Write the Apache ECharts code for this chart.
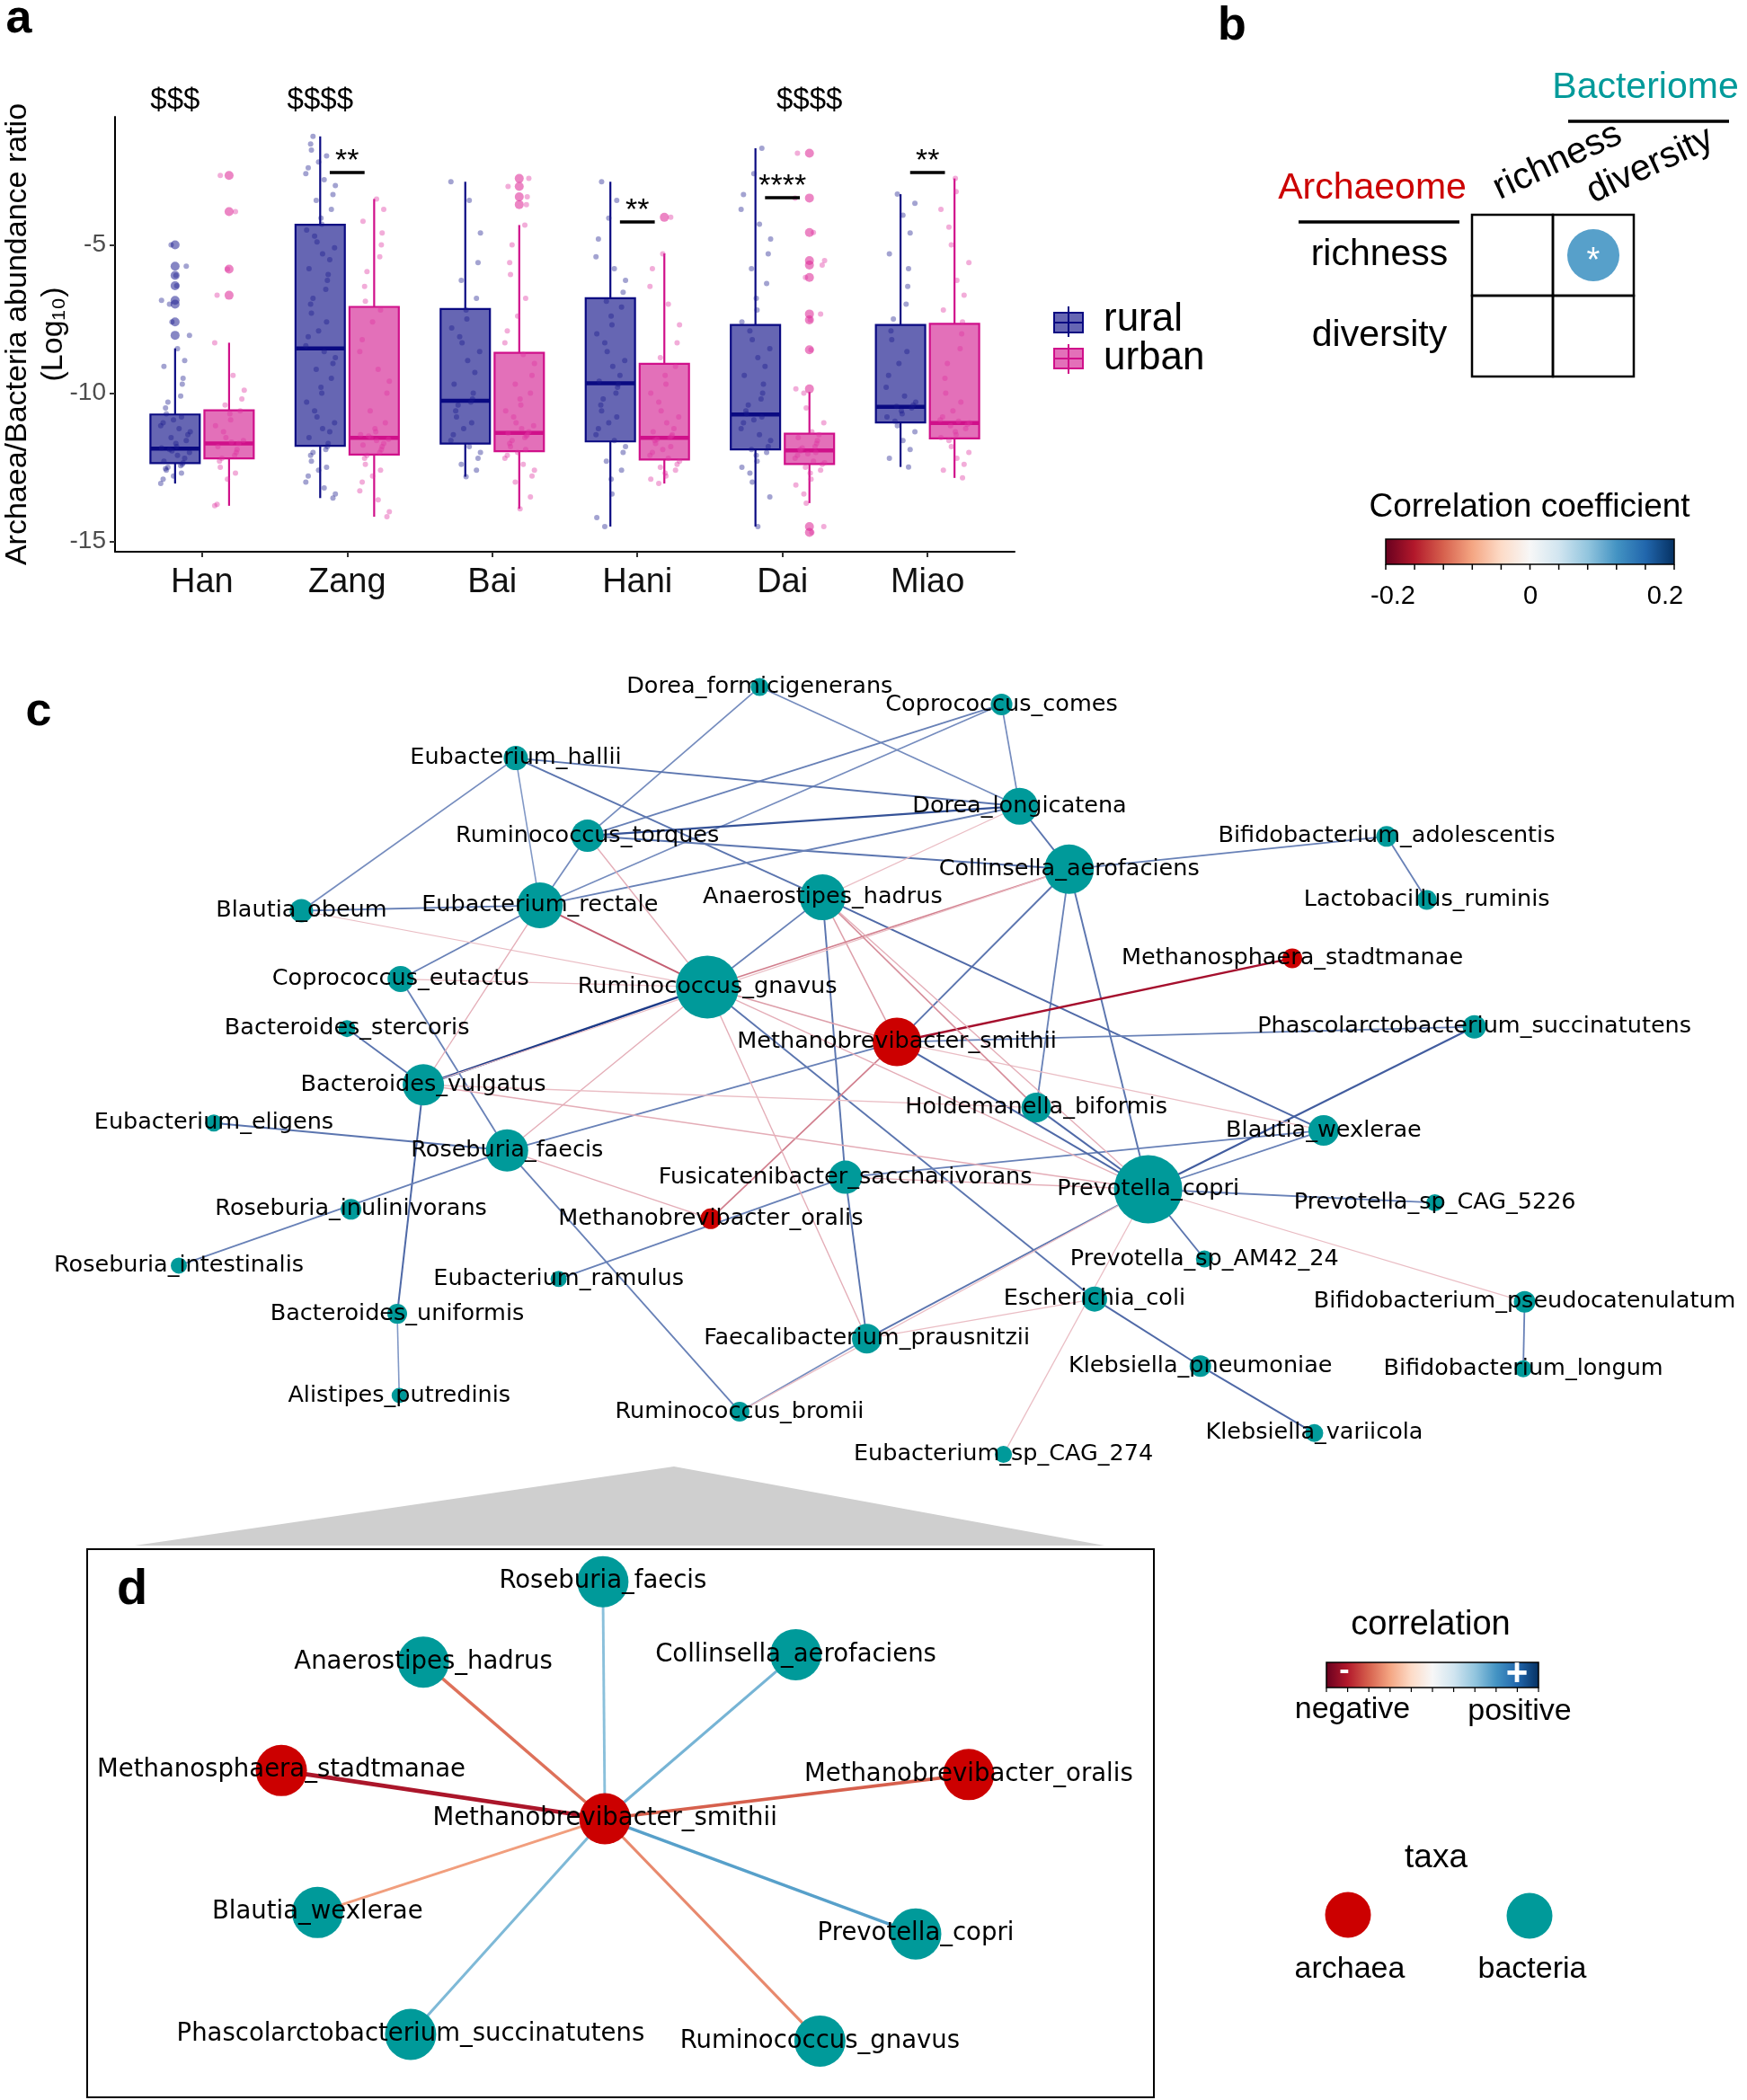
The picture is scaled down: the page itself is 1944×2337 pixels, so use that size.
<!DOCTYPE html>
<html>
<head>
<meta charset="UTF-8">
<title>Archaeome / bacteriome</title>
<script src="https://cdn.jsdelivr.net/npm/echarts@6/dist/echarts.min.js"></script>
</head>
<body style="margin:0;background:#fff">
<div id="chart" style="width:1944px;height:2337px;"></div>
<script type="text/javascript">
var myChart = echarts.init(document.getElementById('chart'));

var FONT = '"Liberation Sans", Arial, sans-serif';
var NETFONT = '"DejaVu Sans", sans-serif';

// ---------- panel a: archaea/bacteria ratio per group ----------
var groups = ['Han', 'Zang', 'Bai', 'Hani', 'Dai', 'Miao'];
// [lower whisker, Q1, median, Q3, upper whisker]
var ruralBox = [
    [-13.05, -12.36, -11.87, -10.72, -8.49],
    [-13.54, -11.78, -8.49, -4.32, -1.34],
    [-12.82, -11.70, -10.26, -7.16, -2.87],
    [-14.50, -11.63, -9.67, -6.80, -2.87],
    [-14.50, -11.90, -10.72, -7.70, -1.74],
    [-12.49, -10.99, -10.46, -7.70, -3.29]
];
var urbanBox = [
    [-13.80, -12.20, -11.70, -10.58, -8.30],
    [-14.17, -12.07, -11.51, -7.09, -3.45],
    [-13.90, -11.96, -11.34, -8.64, -4.33],
    [-13.05, -12.24, -11.51, -9.01, -5.29],
    [-13.71, -12.39, -11.93, -11.37, -9.96],
    [-12.86, -11.53, -11.01, -7.66, -2.76]
];
var ruralOutliers = [
    [-5.0, -5.72, -6.03, -6.38, -6.87, -7.0, -7.6, -8.05], [], [], [], [], []
];
var urbanOutliers = [
    [-2.66, -3.88, -5.82, -6.7], [], [-2.76, -3.03, -3.38, -3.64], [-4.07],
    [-1.91, -3.42, -4.58, -5.53, -5.68, -6.1, -7.33, -7.53, -8.54, -9.86, -14.5, -14.7], []
];
var ruralPoints = [
    [-13.05, -12.9, -12.8, -12.7, -12.6, -12.55, -12.5, -12.45, -12.4, -12.35, -12.3, -12.2, -12.1, -12.0, -11.95, -11.9, -11.85, -11.8, -11.7, -11.6, -11.5, -11.4, -11.3, -11.2, -11.1, -11.0, -10.9, -10.8, -10.7, -10.5, -10.3, -10.1, -9.7, -9.5, -9.1, -8.9, -8.5, -8.05, -7.6, -7.0, -6.87, -6.38, -6.03, -5.72, -5.0],
    [-13.54, -13.4, -13.2, -13.0, -12.8, -12.6, -12.5, -12.3, -12.1, -12.0, -11.9, -11.8, -11.7, -11.5, -11.3, -11.2, -11.0, -10.8, -10.6, -10.3, -10.0, -9.8, -9.5, -9.2, -9.0, -8.8, -8.6, -8.4, -8.1, -7.9, -7.6, -7.3, -7.0, -6.8, -6.5, -6.2, -6.0, -5.8, -5.5, -5.3, -5.1, -4.9, -4.7, -4.5, -4.3, -4.1, -3.8, -3.5, -3.3, -3.0, -2.8, -2.6, -2.4, -2.2, -2.0, -1.8, -1.6, -1.34],
    [-12.82, -12.6, -12.4, -12.2, -12.0, -11.8, -11.6, -11.4, -11.2, -11.0, -10.8, -10.6, -10.4, -10.3, -10.2, -10.0, -9.7, -9.3, -8.9, -8.6, -8.3, -8.1, -7.8, -7.5, -7.2, -6.8, -6.2, -5.6, -4.6, -3.5, -2.87],
    [-14.5, -14.2, -13.4, -12.9, -12.6, -12.3, -12.0, -11.8, -11.6, -11.4, -11.2, -11.0, -10.8, -10.6, -10.4, -10.2, -10.0, -9.8, -9.7, -9.6, -9.4, -9.1, -8.9, -8.6, -8.3, -8.0, -7.7, -7.4, -7.1, -6.9, -6.6, -6.2, -5.8, -5.4, -4.8, -4.1, -3.5, -2.87],
    [-14.5, -13.5, -13.0, -12.7, -12.5, -12.3, -12.1, -12.0, -11.9, -11.8, -11.6, -11.4, -11.2, -11.0, -10.9, -10.8, -10.7, -10.6, -10.4, -10.2, -10.0, -9.7, -9.4, -9.1, -8.8, -8.5, -8.2, -7.9, -7.6, -7.2, -6.8, -6.3, -5.8, -5.3, -4.8, -4.3, -3.8, -3.3, -2.6, -1.74],
    [-12.49, -12.2, -11.9, -11.6, -11.3, -11.1, -10.95, -10.8, -10.7, -10.6, -10.5, -10.45, -10.4, -10.3, -10.1, -9.8, -9.4, -9.0, -8.6, -8.2, -7.9, -7.5, -7.0, -6.4, -5.8, -5.3, -4.6, -4.0, -3.6, -3.29]
];
var urbanPoints = [
    [-13.8, -13.75, -12.9, -12.7, -12.5, -12.3, -12.2, -12.1, -12.0, -11.9, -11.8, -11.7, -11.65, -11.6, -11.5, -11.3, -11.1, -10.9, -10.7, -10.6, -10.4, -10.2, -9.9, -9.4, -8.3, -6.7, -5.82, -3.88, -2.66],
    [-14.17, -14.0, -13.6, -13.3, -13.0, -12.8, -12.6, -12.4, -12.2, -12.1, -12.0, -11.9, -11.8, -11.75, -11.7, -11.6, -11.55, -11.5, -11.45, -11.4, -11.3, -11.2, -11.0, -10.6, -10.0, -9.6, -9.2, -8.6, -8.2, -7.6, -7.2, -6.9, -6.4, -5.9, -5.4, -5.0, -4.6, -4.2, -3.8, -3.45],
    [-13.9, -13.5, -13.0, -12.8, -12.6, -12.4, -12.2, -12.1, -12.0, -11.9, -11.8, -11.7, -11.6, -11.5, -11.45, -11.4, -11.35, -11.3, -11.2, -11.1, -11.0, -10.8, -10.6, -10.4, -10.2, -10.0, -9.7, -9.4, -9.0, -8.7, -8.3, -7.9, -7.4, -6.8, -6.0, -5.6, -5.0, -4.33, -3.64, -3.38, -3.03, -2.76],
    [-13.05, -12.9, -12.8, -12.7, -12.6, -12.5, -12.4, -12.3, -12.2, -12.1, -12.0, -11.9, -11.8, -11.7, -11.6, -11.55, -11.5, -11.45, -11.4, -11.3, -11.2, -11.0, -10.8, -10.6, -10.3, -10.0, -9.7, -9.4, -9.1, -8.8, -8.3, -7.7, -7.0, -6.4, -5.8, -5.3, -4.07],
    [-14.7, -14.5, -13.71, -13.4, -13.1, -12.9, -12.7, -12.6, -12.5, -12.4, -12.35, -12.3, -12.2, -12.1, -12.05, -12.0, -11.95, -11.9, -11.85, -11.8, -11.7, -11.6, -11.5, -11.4, -11.3, -11.0, -10.5, -10.0, -9.86, -8.54, -7.53, -7.33, -6.1, -5.68, -5.53, -4.58, -3.42, -1.91],
    [-12.86, -12.6, -12.4, -12.2, -12.0, -11.8, -11.6, -11.5, -11.4, -11.3, -11.2, -11.1, -11.05, -11.0, -10.95, -10.9, -10.8, -10.6, -10.3, -10.0, -9.5, -9.0, -8.5, -8.0, -7.6, -7.2, -6.7, -6.2, -5.6, -5.0, -4.4, -3.8, -3.2, -2.76]
];
// rural-vs-urban significance per group and ethnic-group significance
var pairSig = ['', '**', '', '**', '****', '**'];
var pairSigLevel = [null, -2.56, null, -4.23, -3.41, -2.56];
var groupSig = ['$$$', '$$$$', '', '', '$$$$', ''];
var groupSigSide = [0, 0, 0, 0, 1, 0];
var groupSigLevel = -0.13;

// ---------- panel b: archaeome vs bacteriome alpha diversity ----------
var bacMetrics = ['richness', 'diversity'];
var arcMetrics = ['richness', 'diversity'];
// rows: archaeome metric, cols: bacteriome metric; null = not significant
var corrR = [[null, 0.11], [null, null]];

// ---------- panel c: co-occurrence network ----------
var cNodes = ['Dorea_formicigenerans', 'Coprococcus_comes', 'Eubacterium_hallii', 'Dorea_longicatena',
    'Ruminococcus_torques', 'Bifidobacterium_adolescentis', 'Collinsella_aerofaciens', 'Blautia_obeum',
    'Eubacterium_rectale', 'Anaerostipes_hadrus', 'Lactobacillus_ruminis', 'Methanosphaera_stadtmanae',
    'Coprococcus_eutactus', 'Ruminococcus_gnavus', 'Bacteroides_stercoris', 'Methanobrevibacter_smithii',
    'Phascolarctobacterium_succinatutens', 'Bacteroides_vulgatus', 'Holdemanella_biformis', 'Eubacterium_eligens',
    'Blautia_wexlerae', 'Roseburia_faecis', 'Fusicatenibacter_saccharivorans', 'Prevotella_copri',
    'Prevotella_sp_CAG_5226', 'Roseburia_inulinivorans', 'Methanobrevibacter_oralis', 'Prevotella_sp_AM42_24',
    'Roseburia_intestinalis', 'Eubacterium_ramulus', 'Escherichia_coli', 'Bifidobacterium_pseudocatenulatum',
    'Bacteroides_uniformis', 'Faecalibacterium_prausnitzii', 'Klebsiella_pneumoniae', 'Bifidobacterium_longum',
    'Alistipes_putredinis', 'Ruminococcus_bromii', 'Klebsiella_variicola', 'Eubacterium_sp_CAG_274'];
var cLayoutX = [567, 747.6, 385, 761, 438.5, 1035, 798, 225, 403, 614, 1065, 964.6, 299, 528, 259, 669.5,
    1100.5, 316, 773.5, 159.6, 988, 378.5, 631, 857, 1071, 262, 530.5, 899, 133.5, 417, 817, 1138,
    296.5, 647, 896, 1137, 298, 552, 981, 749];
var cLayoutY = [513, 526, 566, 602, 624, 624.5, 649, 680, 676, 670, 672, 715.5, 731, 737, 768, 778,
    766.7, 810, 827, 838.5, 844, 859, 879, 888, 898, 903, 910, 940, 945, 955, 970, 972,
    981, 999.5, 1020, 1022, 1042, 1054, 1070, 1086];
var cWeight = [2.0, 2.4, 2.7, 4.1, 3.6, 2.3, 5.5, 2.6, 5.1, 5.1, 2.2, 2.2, 2.9, 7.0, 1.9, 5.4,
    2.6, 4.6, 3.3, 1.9, 3.4, 4.7, 3.7, 7.6, 1.9, 2.3, 2.3, 1.9, 1.8, 1.8, 2.8, 2.4,
    2.2, 3.3, 2.4, 1.9, 1.7, 2.2, 2.0, 1.9];
var archaea = ['Methanosphaera_stadtmanae', 'Methanobrevibacter_smithii', 'Methanobrevibacter_oralis'];
var cEdges = [
    ['Dorea_formicigenerans', 'Ruminococcus_torques', 0.5],
    ['Dorea_formicigenerans', 'Dorea_longicatena', 0.5],
    ['Coprococcus_comes', 'Ruminococcus_torques', 0.55],
    ['Coprococcus_comes', 'Eubacterium_rectale', 0.5],
    ['Coprococcus_comes', 'Dorea_longicatena', 0.5],
    ['Eubacterium_hallii', 'Blautia_obeum', 0.5],
    ['Eubacterium_hallii', 'Eubacterium_rectale', 0.45],
    ['Eubacterium_hallii', 'Dorea_longicatena', 0.6],
    ['Eubacterium_hallii', 'Anaerostipes_hadrus', 0.6],
    ['Ruminococcus_torques', 'Eubacterium_rectale', 0.5],
    ['Ruminococcus_torques', 'Dorea_longicatena', 0.75],
    ['Ruminococcus_torques', 'Collinsella_aerofaciens', 0.6],
    ['Eubacterium_rectale', 'Dorea_longicatena', 0.55],
    ['Eubacterium_rectale', 'Blautia_obeum', 0.55],
    ['Eubacterium_rectale', 'Coprococcus_eutactus', 0.55],
    ['Dorea_longicatena', 'Collinsella_aerofaciens', 0.6],
    ['Collinsella_aerofaciens', 'Bifidobacterium_adolescentis', 0.55],
    ['Bifidobacterium_adolescentis', 'Lactobacillus_ruminis', 0.55],
    ['Collinsella_aerofaciens', 'Methanobrevibacter_smithii', 0.6],
    ['Collinsella_aerofaciens', 'Holdemanella_biformis', 0.55],
    ['Collinsella_aerofaciens', 'Prevotella_copri', 0.6],
    ['Anaerostipes_hadrus', 'Ruminococcus_gnavus', 0.55],
    ['Anaerostipes_hadrus', 'Fusicatenibacter_saccharivorans', 0.6],
    ['Anaerostipes_hadrus', 'Blautia_wexlerae', 0.65],
    ['Ruminococcus_gnavus', 'Bacteroides_vulgatus', 0.85],
    ['Ruminococcus_gnavus', 'Escherichia_coli', 0.6],
    ['Coprococcus_eutactus', 'Roseburia_faecis', 0.55],
    ['Bacteroides_stercoris', 'Bacteroides_vulgatus', 0.6],
    ['Bacteroides_vulgatus', 'Bacteroides_uniformis', 0.65],
    ['Bacteroides_uniformis', 'Alistipes_putredinis', 0.45],
    ['Eubacterium_eligens', 'Roseburia_faecis', 0.6],
    ['Roseburia_faecis', 'Roseburia_intestinalis', 0.55],
    ['Roseburia_faecis', 'Methanobrevibacter_smithii', 0.55],
    ['Roseburia_faecis', 'Ruminococcus_bromii', 0.55],
    ['Eubacterium_ramulus', 'Fusicatenibacter_saccharivorans', 0.55],
    ['Fusicatenibacter_saccharivorans', 'Faecalibacterium_prausnitzii', 0.6],
    ['Fusicatenibacter_saccharivorans', 'Blautia_wexlerae', 0.55],
    ['Faecalibacterium_prausnitzii', 'Ruminococcus_bromii', 0.5],
    ['Faecalibacterium_prausnitzii', 'Prevotella_copri', 0.6],
    ['Escherichia_coli', 'Klebsiella_pneumoniae', 0.65],
    ['Klebsiella_pneumoniae', 'Klebsiella_variicola', 0.65],
    ['Methanobrevibacter_smithii', 'Phascolarctobacterium_succinatutens', 0.55],
    ['Methanobrevibacter_smithii', 'Prevotella_copri', 0.65],
    ['Holdemanella_biformis', 'Prevotella_copri', 0.65],
    ['Prevotella_copri', 'Phascolarctobacterium_succinatutens', 0.7],
    ['Prevotella_copri', 'Blautia_wexlerae', 0.55],
    ['Prevotella_copri', 'Prevotella_sp_CAG_5226', 0.55],
    ['Prevotella_copri', 'Prevotella_sp_AM42_24', 0.6],
    ['Bifidobacterium_pseudocatenulatum', 'Bifidobacterium_longum', 0.55],
    ['Methanobrevibacter_smithii', 'Methanosphaera_stadtmanae', -0.85],
    ['Methanobrevibacter_smithii', 'Methanobrevibacter_oralis', -0.5],
    ['Methanobrevibacter_smithii', 'Anaerostipes_hadrus', -0.4],
    ['Methanobrevibacter_smithii', 'Ruminococcus_gnavus', -0.4],
    ['Methanobrevibacter_smithii', 'Blautia_wexlerae', -0.3],
    ['Eubacterium_rectale', 'Ruminococcus_gnavus', -0.6],
    ['Blautia_obeum', 'Ruminococcus_gnavus', -0.3],
    ['Ruminococcus_torques', 'Ruminococcus_gnavus', -0.35],
    ['Coprococcus_eutactus', 'Ruminococcus_gnavus', -0.3],
    ['Eubacterium_rectale', 'Bacteroides_vulgatus', -0.35],
    ['Ruminococcus_gnavus', 'Collinsella_aerofaciens', -0.5],
    ['Bacteroides_vulgatus', 'Collinsella_aerofaciens', -0.3],
    ['Anaerostipes_hadrus', 'Dorea_longicatena', -0.3],
    ['Anaerostipes_hadrus', 'Holdemanella_biformis', -0.45],
    ['Anaerostipes_hadrus', 'Prevotella_copri', -0.35],
    ['Ruminococcus_gnavus', 'Prevotella_copri', -0.35],
    ['Ruminococcus_gnavus', 'Roseburia_faecis', -0.35],
    ['Ruminococcus_gnavus', 'Faecalibacterium_prausnitzii', -0.35],
    ['Bacteroides_vulgatus', 'Holdemanella_biformis', -0.3],
    ['Bacteroides_vulgatus', 'Prevotella_copri', -0.35],
    ['Roseburia_faecis', 'Methanobrevibacter_oralis', -0.35],
    ['Fusicatenibacter_saccharivorans', 'Prevotella_copri', -0.35],
    ['Ruminococcus_bromii', 'Prevotella_copri', -0.3],
    ['Escherichia_coli', 'Faecalibacterium_prausnitzii', -0.3],
    ['Prevotella_copri', 'Eubacterium_sp_CAG_274', -0.3],
    ['Prevotella_copri', 'Bifidobacterium_pseudocatenulatum', -0.3]
];

// ---------- panel d: M. smithii neighbourhood ----------
var dNodes = ['Roseburia_faecis', 'Anaerostipes_hadrus', 'Collinsella_aerofaciens', 'Methanosphaera_stadtmanae',
    'Methanobrevibacter_smithii', 'Methanobrevibacter_oralis', 'Blautia_wexlerae', 'Prevotella_copri',
    'Phascolarctobacterium_succinatutens', 'Ruminococcus_gnavus'];
var dLayoutX = [450, 316, 594, 210, 451.5, 723, 237, 683.5, 306.5, 612];
var dLayoutY = [1181, 1241, 1235.5, 1322, 1358, 1325, 1428, 1444, 1519, 1524];
var dCorr = [0.42, -0.55, 0.47, -0.82, null, -0.6, -0.42, 0.55, 0.45, -0.48];

// ---------- helpers ----------
var rdbu = ['#67001f', '#b2182b', '#d6604d', '#f4a582', '#fddbc7', '#f7f7f7',
    '#d1e5f0', '#92c5de', '#4393c3', '#2166ac', '#053061'];
function hex(c) { return [parseInt(c.substr(1, 2), 16), parseInt(c.substr(3, 2), 16), parseInt(c.substr(5, 2), 16)]; }
function mix(a, b, t) {
    var x = hex(a), y = hex(b);
    return 'rgb(' + [0, 1, 2].map(function (k) { return Math.round(x[k] + (y[k] - x[k]) * t); }).join(',') + ')';
}
function rdbuColor(r) {  // r in [-1, 1]
    var p = (Math.max(-1, Math.min(1, r)) + 1) * 5;
    var i = Math.min(9, Math.floor(p));
    return mix(rdbu[i], rdbu[i + 1], p - i);
}
function netEdgeColor(r) {
    var t = Math.max(0, Math.min(1, (Math.abs(r) - 0.25) / 0.6));
    return r > 0 ? mix('#b4c7e6', '#1c3a87', t) : mix('#f0cdd2', '#a50f2d', t);
}
var teal = '#009a9a', red = '#cc0000';

// boxplot geometry (dodged like ggplot)
var dodge = 0.186, boxW = 0.34, jitterW = 0.11;
var ruralLine = '#0a0a82', urbanLine = '#d0108a';
var ruralFill = 'rgba(0,0,128,0.6)', urbanFill = 'rgba(208,16,138,0.6)';
var jitterPattern = [-0.9, 0.35, -0.2, 0.8, -0.55, 0.6, 0.05, -0.75, 0.45, -0.35, 0.95, -0.6,
    0.15, 0.7, -0.1, 0.5, -0.85, 0.25, -0.45, 0.9, -0.25, 0.4, -0.7, 0.1];

var boxData = [];
groups.forEach(function (g, i) {
    boxData.push([i + 1, 0].concat(ruralBox[i]));
    boxData.push([i + 1, 1].concat(urbanBox[i]));
});
function jitterData(byGroup, side) {
    var out = [];
    byGroup.forEach(function (vals, i) {
        vals.forEach(function (v, k) {
            var j = jitterPattern[(k * 7 + i * 3) % jitterPattern.length];
            out.push([i + 1 + (side ? dodge : -dodge) + j * jitterW, v]);
        });
    });
    return out;
}
function outlierData(byGroup, side) {
    var out = [];
    byGroup.forEach(function (vals, i) {
        vals.forEach(function (v) { out.push([i + 1 + (side ? dodge : -dodge), v]); });
    });
    return out;
}
var groupSigData = [], groupSigText = [];
groupSig.forEach(function (s, i) {
    if (!s) return;
    groupSigData.push([i + 1 + (groupSigSide[i] ? dodge : -dodge), groupSigLevel]);
    groupSigText.push(s);
});
var pairSigData = [], pairSigText = [];
pairSig.forEach(function (s, i) {
    if (!s) return;
    pairSigData.push([i + 1, pairSigLevel[i]]);
    pairSigText.push(s);
});

// panel b cells
var corrCells = [];
arcMetrics.forEach(function (a, row) {
    bacMetrics.forEach(function (b, col) { corrCells.push([col, row, corrR[row][col]]); });
});

// network nodes / links
var cGraphNodes = cNodes.map(function (n, i) {
    var isA = archaea.indexOf(n) >= 0;
    return { name: n, value: [cLayoutX[i], cLayoutY[i]], symbolSize: cWeight[i] * 10,
        itemStyle: { color: isA ? red : teal } };
});
var cGraphLinks = cEdges.map(function (e) {
    return { source: e[0], target: e[1],
        lineStyle: { color: netEdgeColor(e[2]), width: 0.6 + Math.abs(e[2]) * 2.2 } };
});
var dGraphNodes = dNodes.map(function (n, i) {
    var isA = archaea.indexOf(n) >= 0;
    return { name: n, value: [dLayoutX[i], dLayoutY[i]], symbolSize: 57,
        itemStyle: { color: isA ? red : teal } };
});
var dGraphLinks = [];
dNodes.forEach(function (n, i) {
    if (dCorr[i] === null) return;
    dGraphLinks.push({ source: 'Methanobrevibacter_smithii', target: n,
        lineStyle: { color: rdbuColor(dCorr[i]), width: 1 + Math.abs(dCorr[i]) * 4.5 } });
});

function txt(text, x, y, size, opts) {
    opts = opts || {};
    return {
        type: 'text', x: x, y: y, rotation: opts.rotation || 0, z: 10,
        style: {
            text: text, x: 0, y: 0, fill: opts.color || '#000',
            fontSize: size, fontFamily: opts.family || FONT, fontWeight: opts.weight || 'normal',
            textAlign: opts.align || 'center', align: opts.align || 'center',
            textVerticalAlign: 'middle', verticalAlign: 'middle'
        }
    };
}
function hline(x1, y1, x2, y2, w, color) {
    return { type: 'line', z: 10, shape: { x1: x1, y1: y1, x2: x2, y2: y2 },
        style: { stroke: color || '#000', lineWidth: w } };
}
function gradientStops() {
    return rdbu.map(function (c, i) { return { offset: i / 10, color: c }; });
}

var graphics = [
    txt('a', 21, 22, 52, { weight: 'bold' }),
    txt('b', 1371, 30, 52, { weight: 'bold' }),
    txt('c', 43, 793, 52, { weight: 'bold' }),
    txt('d', 147, 1770, 56, { weight: 'bold' }),
    // legend of panel a
    hline(1189, 341, 1189, 375, 2, ruralLine),
    { type: 'rect', z: 10, shape: { x: 1173, y: 348, width: 32, height: 22 }, style: { fill: ruralFill, stroke: ruralLine, lineWidth: 2 } },
    hline(1173, 359, 1205, 359, 2, ruralLine),
    hline(1189, 383, 1189, 416, 2, urbanLine),
    { type: 'rect', z: 10, shape: { x: 1173, y: 388, width: 32, height: 22 }, style: { fill: urbanFill, stroke: urbanLine, lineWidth: 2 } },
    hline(1173, 399, 1205, 399, 2, urbanLine),
    txt('rural', 1228, 356, 44, { align: 'left' }),
    txt('urban', 1228, 399, 44, { align: 'left' }),
    // panel b headers (column names follow the bacteriome metric list)
    txt('Bacteriome', 1831, 98, 41, { color: teal }),
    hline(1745, 135, 1924, 135, 3.5),
    txt(bacMetrics[0], 1664, 212, 41, { align: 'left', rotation: 25 * Math.PI / 180 }),
    txt(bacMetrics[1], 1768, 216, 41, { align: 'left', rotation: 25 * Math.PI / 180 }),
    txt('Archaeome', 1527, 210, 41, { color: red }),
    hline(1445, 247, 1624, 247, 3.5),
    txt('Correlation coefficient', 1702, 565, 37),
    { type: 'rect', z: 10, shape: { x: 1542, y: 600, width: 321, height: 28 },
      style: { fill: new echarts.graphic.LinearGradient(0, 0, 1, 0, gradientStops()), stroke: '#000', lineWidth: 1.5 } },
    txt('-0.2', 1550, 664, 29),
    txt('0', 1703, 664, 29),
    txt('0.2', 1853, 664, 29),
    // zoom wedge and panel d frame
    { type: 'polygon', z: 1, shape: { points: [[750, 1632], [150, 1720], [1229, 1720]] }, style: { fill: '#cfcfcf' } },
    { type: 'rect', z: 1, shape: { x: 97, y: 1724, width: 1187, height: 610 }, style: { fill: 'none', stroke: '#000', lineWidth: 2 } },
    // panel d legends
    txt('correlation', 1592, 1809, 38),
    { type: 'rect', z: 10, shape: { x: 1476, y: 1850, width: 236, height: 28 },
      style: { fill: new echarts.graphic.LinearGradient(0, 0, 1, 0, gradientStops()), stroke: '#000', lineWidth: 1.5 } },
    txt('-', 1496, 1860, 34, { color: '#fff', weight: 'bold' }),
    txt('+', 1688, 1863, 42, { color: '#fff', weight: 'bold' }),
    txt('negative', 1505, 1903, 34),
    txt('positive', 1691, 1905, 34),
    txt('taxa', 1598, 2068, 37),
    { type: 'circle', z: 10, shape: { cx: 1500, cy: 2131, r: 25.5 }, style: { fill: red } },
    { type: 'circle', z: 10, shape: { cx: 1702, cy: 2132, r: 25.5 }, style: { fill: teal } },
    txt('archaea', 1502, 2192, 34),
    txt('bacteria', 1705, 2192, 34)
];
for (var k = 0; k <= 10; k++) {
    graphics.push(hline(1542 + k * 32.1, 628, 1542 + k * 32.1, 634, 1.5));
    graphics.push(hline(1476 + k * 23.6, 1878, 1476 + k * 23.6, 1883, 1.2));
}

var option = {
    animation: false,
    backgroundColor: '#fff',
    textStyle: { fontFamily: FONT },
    grid: [
        { left: 128, top: 130, width: 1001, height: 484, outerBoundsMode: 'none', containLabel: false },
        { left: 1638, top: 239, width: 180, height: 180, outerBoundsMode: 'none', containLabel: false },
        { left: 0, top: 0, width: 1944, height: 2337, outerBoundsMode: 'none', containLabel: false }
    ],
    xAxis: [
        {
            gridIndex: 0, type: 'value', min: 0.4, max: 6.6,
            axisLine: { show: true, lineStyle: { color: '#000', width: 2 } },
            axisTick: { show: true, length: 6, lineStyle: { color: '#333', width: 2 }, customValues: [1, 2, 3, 4, 5, 6] },
            axisLabel: { customValues: [1, 2, 3, 4, 5, 6], fontSize: 38, color: '#111', margin: 16,
                formatter: function (v) { return groups[Math.round(v) - 1]; } },
            splitLine: { show: false }
        },
        {
            gridIndex: 1, type: 'category', data: bacMetrics, position: 'top',
            axisLine: { show: false }, axisTick: { show: false }, splitLine: { show: false },
            axisLabel: { show: false }
        },
        { gridIndex: 2, type: 'value', min: 0, max: 1304, show: false }
    ],
    yAxis: [
        {
            gridIndex: 0, type: 'value', min: -15.35, max: -0.68,
            axisLine: { show: true, lineStyle: { color: '#000', width: 2 } },
            axisTick: { show: true, length: 6, lineStyle: { color: '#333', width: 2 }, customValues: [-15, -10, -5] },
            axisLabel: { customValues: [-15, -10, -5], fontSize: 28, color: '#4d4d4d', margin: 10 },
            splitLine: { show: false },
            name: 'Archaea/Bacteria abundance ratio\n(Log\u2081\u2080)',
            nameLocation: 'middle', nameRotate: 90, nameGap: 48, nameMoveOverlap: false,
            nameTextStyle: { fontSize: 34, color: '#000', lineHeight: 40, fontFamily: FONT }
        },
        {
            gridIndex: 1, type: 'category', data: arcMetrics, inverse: true,
            axisLine: { show: false }, axisTick: { show: false }, splitLine: { show: false },
            axisLabel: { fontSize: 41, color: '#000', align: 'center', margin: 103 }
        },
        { gridIndex: 2, type: 'value', min: 0, max: 1568, inverse: true, show: false }
    ],
    series: [
        {
            type: 'custom', name: 'box', xAxisIndex: 0, yAxisIndex: 0, z: 2,
            encode: { x: 0, y: [2, 3, 4, 5, 6] },
            data: boxData,
            renderItem: function (params, api) {
                var side = api.value(1);
                var cx = api.value(0) + (side ? dodge : -dodge);
                var lo = api.coord([cx, api.value(2)]), q1 = api.coord([cx, api.value(3)]),
                    md = api.coord([cx, api.value(4)]), q3 = api.coord([cx, api.value(5)]),
                    hi = api.coord([cx, api.value(6)]);
                var hw = api.size([boxW, 0])[0] / 2;
                var line = side ? urbanLine : ruralLine, fill = side ? urbanFill : ruralFill;
                return { type: 'group', children: [
                    { type: 'line', shape: { x1: lo[0], y1: lo[1], x2: q1[0], y2: q1[1] }, style: { stroke: line, lineWidth: 2.2 } },
                    { type: 'line', shape: { x1: q3[0], y1: q3[1], x2: hi[0], y2: hi[1] }, style: { stroke: line, lineWidth: 2.2 } },
                    { type: 'rect', shape: { x: q3[0] - hw, y: q3[1], width: 2 * hw, height: q1[1] - q3[1] }, style: { fill: fill, stroke: line, lineWidth: 2.2 } },
                    { type: 'line', shape: { x1: md[0] - hw, y1: md[1], x2: md[0] + hw, y2: md[1] }, style: { stroke: line, lineWidth: 4.5 } }
                ] };
            }
        },
        { type: 'scatter', name: 'rural outliers', xAxisIndex: 0, yAxisIndex: 0, z: 3, symbolSize: 10,
          itemStyle: { color: 'rgba(40,40,150,0.7)' }, data: outlierData(ruralOutliers, 0) },
        { type: 'scatter', name: 'urban outliers', xAxisIndex: 0, yAxisIndex: 0, z: 3, symbolSize: 10,
          itemStyle: { color: 'rgba(222,40,150,0.7)' }, data: outlierData(urbanOutliers, 1) },
        { type: 'scatter', name: 'rural', xAxisIndex: 0, yAxisIndex: 0, z: 4, symbolSize: 6,
          itemStyle: { color: 'rgba(25,25,140,0.5)' }, data: jitterData(ruralPoints, 0) },
        { type: 'scatter', name: 'urban', xAxisIndex: 0, yAxisIndex: 0, z: 4, symbolSize: 6,
          itemStyle: { color: 'rgba(222,50,160,0.5)' }, data: jitterData(urbanPoints, 1) },
        {
            type: 'custom', name: 'group sig', xAxisIndex: 0, yAxisIndex: 0, clip: false, z: 5,
            data: groupSigData,
            renderItem: function (params, api) {
                var p = api.coord([api.value(0), api.value(1)]);
                return { type: 'text', style: { text: groupSigText[params.dataIndex], x: p[0], y: p[1],
                    fontSize: 33, fontFamily: FONT, fill: '#000', textAlign: 'center', align: 'center',
                    textVerticalAlign: 'middle', verticalAlign: 'middle' } };
            }
        },
        {
            type: 'custom', name: 'pair sig', xAxisIndex: 0, yAxisIndex: 0, clip: false, z: 5,
            data: pairSigData,
            renderItem: function (params, api) {
                var a = api.coord([api.value(0) - 0.12, api.value(1)]);
                var b = api.coord([api.value(0) + 0.12, api.value(1)]);
                var t = api.coord([api.value(0), api.value(1) + 0.38]);
                return { type: 'group', children: [
                    { type: 'line', shape: { x1: a[0], y1: a[1], x2: b[0], y2: b[1] }, style: { stroke: '#000', lineWidth: 3.5 } },
                    { type: 'text', style: { text: pairSigText[params.dataIndex], x: t[0], y: t[1],
                        fontSize: 34, fontFamily: FONT, fill: '#000', textAlign: 'center', align: 'center',
                        textVerticalAlign: 'middle', verticalAlign: 'middle' } }
                ] };
            }
        },
        {
            type: 'custom', name: 'corr', xAxisIndex: 1, yAxisIndex: 1,
            data: corrCells,
            renderItem: function (params, api) {
                var c = api.coord([api.value(0), api.value(1)]);
                var s = api.size([1, 1]);
                var r = corrR[api.value(1)][api.value(0)];
                var kids = [{ type: 'rect', shape: { x: c[0] - s[0] / 2, y: c[1] - s[1] / 2, width: s[0], height: s[1] },
                    style: { fill: 'none', stroke: '#000', lineWidth: 2.5 } }];
                if (r !== null) {
                    var rad = s[0] / 2 * Math.sqrt(Math.abs(r) / 0.2) * 0.87;
                    kids.push({ type: 'circle', shape: { cx: c[0], cy: c[1], r: rad }, style: { fill: rdbuColor(r / 0.2) } });
                    kids.push({ type: 'text', style: { text: '*', x: c[0], y: c[1] + 8, fontSize: 38, fontFamily: FONT,
                        fill: '#fff', textAlign: 'center', align: 'center', textVerticalAlign: 'middle', verticalAlign: 'middle' } });
                }
                return { type: 'group', children: kids };
            }
        },
        {
            type: 'graph', name: 'network', coordinateSystem: 'cartesian2d', xAxisIndex: 2, yAxisIndex: 2,
            symbol: 'circle', z: 3,
            data: cGraphNodes, links: cGraphLinks,
            label: { show: true, position: 'inside', color: '#000', fontSize: 25.5, fontFamily: NETFONT },
            lineStyle: { opacity: 1, curveness: 0 },
            emphasis: { disabled: true }
        },
        {
            type: 'graph', name: 'smithii', coordinateSystem: 'cartesian2d', xAxisIndex: 2, yAxisIndex: 2,
            symbol: 'circle', z: 3,
            data: dGraphNodes, links: dGraphLinks,
            label: { show: true, position: 'inside', color: '#000', fontSize: 27.5, fontFamily: NETFONT },
            lineStyle: { opacity: 1, curveness: 0 },
            emphasis: { disabled: true }
        }
    ],
    graphic: graphics
};

myChart.setOption(option);
</script>
</body>
</html>
